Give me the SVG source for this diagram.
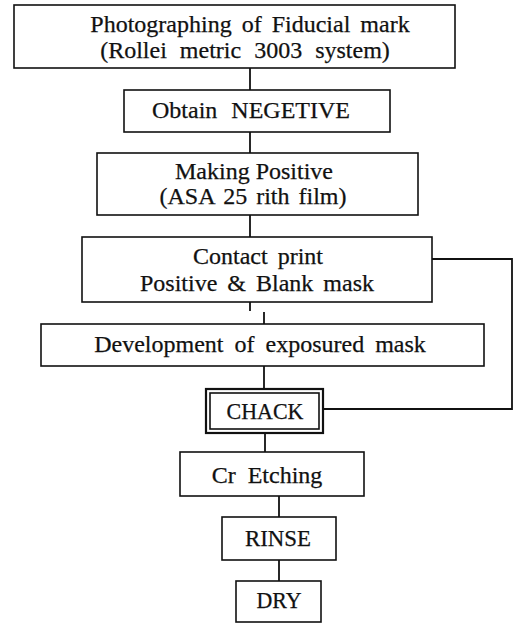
<svg xmlns="http://www.w3.org/2000/svg" width="526" height="624" viewBox="0 0 526 624">
<style>
.box{fill:#fff;stroke:#111;stroke-width:1.6}
.thick{fill:#fff;stroke:#111;stroke-width:2.2}
.con{fill:none;stroke:#111;stroke-width:1.8}
text{font-family:"Liberation Serif","Times New Roman",serif;font-size:24px;fill:#111;stroke:#111;stroke-width:0.25;text-anchor:middle}
</style>
<rect width="526" height="624" fill="#fff"/>
<g id="connectors">
<line class="con" x1="250" y1="68" x2="250" y2="90"/>
<line class="con" x1="250" y1="132" x2="250" y2="153"/>
<line class="con" x1="250" y1="215" x2="250" y2="237"/>
<line class="con" x1="250" y1="302" x2="250" y2="311"/>
<line class="con" x1="264" y1="312" x2="264" y2="324"/>
<line class="con" x1="264" y1="366" x2="264" y2="389"/>
<line class="con" x1="265" y1="433" x2="265" y2="452"/>
<line class="con" x1="279" y1="496" x2="279" y2="517"/>
<line class="con" x1="279" y1="560" x2="279" y2="581"/>
<polyline class="con" points="432,259 512,259 512,409 323,409"/>
</g>
<g id="n1">
<rect class="box" x="14" y="5" width="441" height="63"/>
<text x="250" y="32" word-spacing="4">Photographing of Fiducial mark</text>
<text x="245" y="58" word-spacing="7">(Rollei metric 3003 system)</text>
</g>
<g id="n2">
<rect class="box" x="124" y="90" width="266" height="42"/>
<text x="251" y="118" word-spacing="8">Obtain NEGETIVE</text>
</g>
<g id="n3">
<rect class="box" x="97" y="153" width="321" height="62"/>
<text x="254" y="179">Making Positive</text>
<text x="253" y="204" word-spacing="3">(ASA 25 rith film)</text>
</g>
<g id="n4">
<rect class="box" x="82" y="237" width="350" height="65"/>
<text x="258" y="264" word-spacing="4">Contact print</text>
<text x="257" y="291" word-spacing="4">Positive &amp; Blank mask</text>
</g>
<g id="n5">
<rect class="box" x="41" y="324" width="443" height="42"/>
<text x="260" y="352" word-spacing="5">Development of exposured mask</text>
</g>
<g id="n6">
<rect class="thick" x="206" y="389" width="117" height="44"/>
<rect class="box" x="210" y="393" width="109" height="36"/>
<text x="265" y="419" textLength="77" lengthAdjust="spacingAndGlyphs">CHACK</text>
</g>
<g id="n7">
<rect class="box" x="180" y="452" width="184" height="44"/>
<text x="267" y="483" word-spacing="6">Cr Etching</text>
</g>
<g id="n8">
<rect class="box" x="222" y="517" width="114" height="43"/>
<text x="278" y="546" textLength="66" lengthAdjust="spacingAndGlyphs">RINSE</text>
</g>
<g id="n9">
<rect class="box" x="236" y="581" width="85" height="41"/>
<text x="279" y="608" textLength="45" lengthAdjust="spacingAndGlyphs">DRY</text>
</g>
</svg>
